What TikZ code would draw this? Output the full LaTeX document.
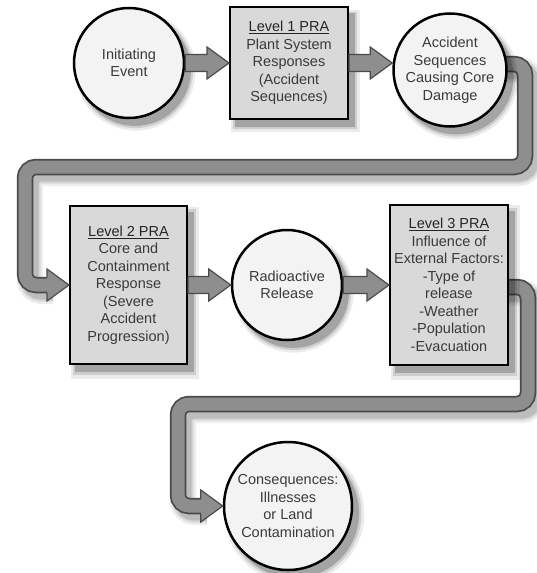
\documentclass[tikz,border=0pt]{standalone}
\usepackage{fontspec}
\setmainfont{Liberation Sans}
\usetikzlibrary{calc,shadows}
\pgfdeclarelayer{background}
\pgfsetlayers{background,main}
\definecolor{boxfill}{HTML}{D9D9D9}
\definecolor{circfill}{HTML}{F3F3F3}
\definecolor{txt}{HTML}{3A3A3A}
\definecolor{arrfill}{HTML}{8E8E8E}
\definecolor{arrline}{HTML}{4A4A4A}
\tikzset{
  softshadow/.style={
    general shadow={fill=black, opacity=0.08, shadow xshift=6pt, shadow yshift=-7pt, shadow scale=1.09},
    general shadow={fill=black, opacity=0.12, shadow xshift=6pt, shadow yshift=-7pt, shadow scale=1.05},
    general shadow={fill=black, opacity=0.20, shadow xshift=6pt, shadow yshift=-7pt, shadow scale=1.015}},
  base/.style={draw=black, align=center, text=txt, font=\fontsize{14.5}{17.5}\selectfont, inner sep=0pt, softshadow},
  stagebox/.style={base, rectangle, fill=boxfill, line width=2pt},
  stagecirc/.style={base, circle, fill=circfill, line width=2.5pt},
  fatarrow/.style={fill=arrfill, draw=arrline, line width=1.2pt, line join=miter},
  bandpath/.style={draw=arrfill, line width=13pt, rounded corners=11pt,
    preaction={draw=black, opacity=0.07, line width=26pt, transform canvas={shift={(5pt,-6pt)}}},
    preaction={draw=black, opacity=0.09, line width=21pt, transform canvas={shift={(5pt,-6pt)}}},
    preaction={draw=black, opacity=0.12, line width=17pt, transform canvas={shift={(5pt,-6pt)}}},
    preaction={draw=arrline, line width=16.5pt}},
  headline/.style={draw=arrline, line width=1.2pt, line join=miter},
}
\newcommand\ttl[1]{{\color{black!85}\underline{#1}}}
\newcommand\fatarrow[2]{%
  \draw[fatarrow] ($(#1)+(0,8.5)$) -- ($(#2)+(-22,8.5)$) -- ($(#2)+(-22,16)$) -- (#2)
    -- ($(#2)+(-22,-16)$) -- ($(#2)+(-22,-8.5)$) -- ($(#1)+(0,-8.5)$) -- cycle;}
\newcommand\bandhead[1]{%
  \fill[arrfill] ($(#1)+(-22,-16)$) -- (#1) -- ($(#1)+(-22,16)$) -- cycle;
  \draw[headline] ($(#1)+(-22,-7.6)$) -- ($(#1)+(-22,-16)$) -- (#1) -- ($(#1)+(-22,16)$) -- ($(#1)+(-22,7.6)$);}
\begin{document}
\begin{tikzpicture}[x=1pt,y=-1pt]
\useasboundingbox (0,0) rectangle (536,573);
\begin{pgfonlayer}{background}
\fill[white] (0,0) rectangle (536,573);
\end{pgfonlayer}

\node[stagecirc, minimum size=110] (ie) at (129,63) {Initiating\\Event};
\node[stagebox, minimum width=118, minimum height=112] (l1) at (289,63) {\ttl{Level 1 PRA}\\Plant System\\Responses\\(Accident\\Sequences)};
\node[stagecirc, minimum size=113] (acc) at (450,70) {Accident\\Sequences\\Causing Core\\Damage};
\node[stagebox, minimum width=117, minimum height=158] (l2) at (128.5,285) {\ttl{Level 2 PRA}\\Core and\\Containment\\Response\\(Severe\\Accident\\Progression)};
\node[stagecirc, minimum size=110] (rr) at (287,285) {Radioactive\\Release};
\node[stagebox, minimum width=118, minimum height=160] (l3) at (449,285) {\ttl{Level 3 PRA}\\Influence of\\External Factors:\\-Type of\\release\\-Weather\\-Population\\-Evacuation};
\node[stagecirc, minimum size=128] (cons) at (288,506) {Consequences:\\Illnesses\\or Land\\Contamination};

\coordinate (accin) at (l1.east -| acc.west);
\fatarrow{ie.east}{l1.west}
\fatarrow{l1.east}{accin}
\fatarrow{l2.east}{rr.west}
\fatarrow{rr.east}{l3.west}

\coordinate (b1a) at (525,64);
\coordinate (b1b) at (525,167);
\coordinate (b1c) at (25,167);
\coordinate (b2a) at (528,287);
\coordinate (b2b) at (528,404);
\coordinate (b2c) at (178,404);

\begin{pgfonlayer}{background}
\draw[bandpath] (acc.center |- b1a) -- (b1a) -- (b1b) -- (b1c) -- (b1c |- l2.west) -- ($(l2.west)+(-21,0)$);
\draw[bandpath] (l3.center |- b2a) -- (b2a) -- (b2b) -- (b2c) -- (b2c |- cons.west) -- ($(cons.west)+(-21,0)$);
\end{pgfonlayer}
\bandhead{l2.west}
\bandhead{cons.west}
\end{tikzpicture}
\end{document}
